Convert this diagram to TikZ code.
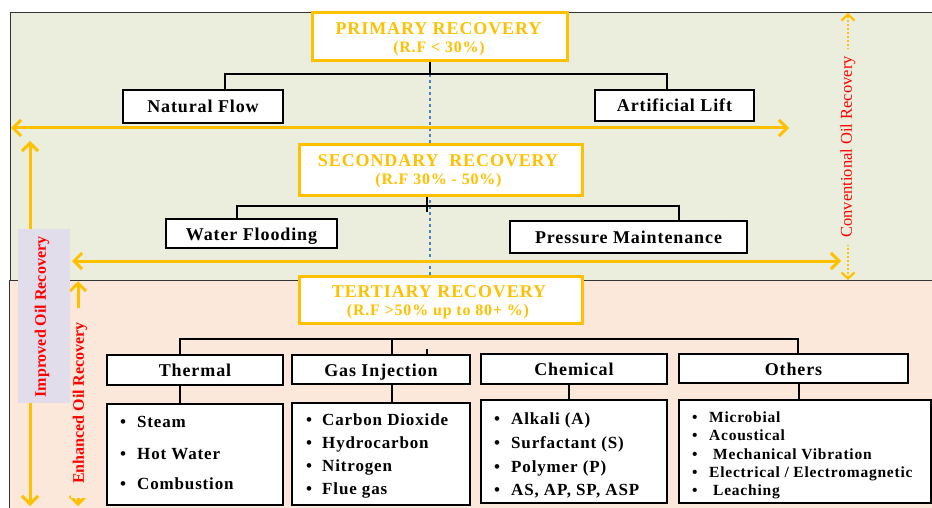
\documentclass[tikz,border=0pt]{standalone}
\usepackage{fontspec}
\setmainfont{Liberation Serif}
\newfontfamily\spaced[LetterSpace=5]{Liberation Serif}
\usetikzlibrary{arrows.meta}
\definecolor{gold}{HTML}{FFC000}
\definecolor{greenbg}{HTML}{EBEEDD}
\definecolor{peachbg}{HTML}{FCE8DA}
\definecolor{lav}{HTML}{E1DDEB}
\definecolor{dashblue}{HTML}{4F81BD}
\definecolor{redlab}{HTML}{FF0000}
\newcommand\myitem[2]{\makebox[#1][l]{•}#2}
\begin{document}
\begin{tikzpicture}[x=1pt,y=-1pt,
  barbtip/.tip={Straight Barb[length=8pt,width=16pt]},
  smalltip/.tip={Straight Barb[length=6pt,width=13pt]},
  titlebox/.style={draw=gold,line width=3pt,fill=white,inner sep=0pt},
  titletext/.style={anchor=base,inner sep=0pt,text=gold,font=\spaced\bfseries\fontsize{18}{18}\selectfont},
  subtext/.style={anchor=base,inner sep=0pt,text=gold,font=\spaced\bfseries\fontsize{16}{18}\selectfont},
  hbox/.style={draw=black,line width=1.8pt,fill=white,inner sep=0pt,text height=16pt,text depth=3pt,
    font=\spaced\bfseries\fontsize{18}{20}\selectfont},
  lbox/.style={draw=black,line width=1.8pt,fill=white,inner sep=0pt},
  itm/.style={anchor=base west,inner sep=0pt,font=\spaced\bfseries\fontsize{17}{19}\selectfont},
  itms/.style={anchor=base west,inner sep=0pt,font=\spaced\bfseries\fontsize{15.5}{17}\selectfont},
  conn/.style={draw=black,line width=1.8pt},
  oarrow/.style={draw=gold,line width=3pt,barbtip-barbtip},
  dotarrow/.style={draw=gold,line width=2.2pt,dash pattern=on 2pt off 2pt,smalltip-smalltip},
  redlabel/.style={text=redlab,rotate=90,inner sep=0pt}
]
\useasboundingbox (0,0) rectangle (932,508);
% backgrounds
\fill[greenbg] (10,12) rectangle (932,280);
\fill[peachbg] (9,280) rectangle (932,508);
\draw[line width=0.8pt,black!80] (932,12) -- (10,12) -- (10,280);
\draw[line width=0.8pt,black!80] (932,280) -- (9,280) -- (9,508);

% dashed spine
\coordinate (dtop) at (430,62);
\coordinate (dbot) at (430,275);
\draw[dashblue,dashed,line width=1.3pt] (dtop) -- (dbot);

% orange horizontal arrows
\coordinate (h1L) at (11,128);
\coordinate (h1R) at (789,128);
\draw[oarrow] (h1L) -- (h1R);
\coordinate (h2L) at (72,261);
\coordinate (h2R) at (841,261);
\draw[oarrow] (h2L) -- (h2R);

% vertical arrows
\coordinate (iTop) at (30,141);
\coordinate (iBot) at (30,506);
\draw[oarrow] (iTop) -- (iBot);
\coordinate (eTop) at (78,281);
\coordinate (eBot) at (78,506);
\draw[oarrow] (eTop) -- (eBot);
\coordinate (cTop) at (848,13);
\coordinate (cBot) at (848,280);
\draw[dotarrow] (cTop) -- (cBot);

% side labels
\node[fill=lav,rotate=90,minimum width=174,minimum height=52,inner sep=0pt] (impbg) at (44,316) {};
\node[redlabel,font=\bfseries\fontsize{16}{18}\selectfont] (imp) at (42,317) {Improved Oil Recovery};
\node[redlabel,fill=peachbg,inner xsep=14pt,inner ysep=2pt,font=\bfseries\fontsize{16}{18}\selectfont] (enh) at (80,403) {Enhanced Oil Recovery};
\node[redlabel,fill=greenbg,inner xsep=7pt,inner ysep=2pt,font=\fontsize{16.5}{18}\selectfont] (conv) at (848,147) {Conventional Oil Recovery};

% title boxes
\node[titlebox,minimum width=255,minimum height=48] (prim) at (440,36.5) {};
\node[titletext] (prim1) at (438.5,35) {PRIMARY RECOVERY};
\node[subtext] (prim2) at (439,53) {(R.F < 30\%)};
\node[titlebox,minimum width=283,minimum height=51] (sec) at (441,170) {};
\node[titletext] (sec1) at (438,167) {SECONDARY\ \ RECOVERY};
\node[subtext] (sec2) at (438.5,185) {(R.F 30\% - 50\%)};
\node[titlebox,minimum width=283,minimum height=47] (ter) at (441,300) {};
\node[titletext] (ter1) at (439,297) {TERTIARY RECOVERY};
\node[subtext] (ter2) at (438,315) {(R.F >50\% up to 80+ \%)};

% primary children
\node[hbox,minimum width=160,minimum height=33] (nf) at (203,106.5) {Natural Flow};
\node[hbox,minimum width=159,minimum height=31] (al) at (674.5,105.5) {Artificial Lift};
% secondary children
\node[hbox,minimum width=171,minimum height=29] (wf) at (251.5,233.5) {Water Flooding};
\node[hbox,minimum width=237,minimum height=32] (pm) at (628.5,237) {Pressure Maintenance};
% tertiary children
\node[hbox,minimum width=176,minimum height=30] (th) at (195,370) {Thermal};
\node[hbox,minimum width=178,minimum height=29] (gi) at (381,369.5) {Gas Injection};
\node[hbox,minimum width=186,minimum height=30] (ch) at (574,369) {Chemical};
\node[hbox,minimum width=229,minimum height=29] (ot) at (793.5,368.5) {Others};
% lists
\node[lbox,minimum width=176,minimum height=101] (thl) at (195,454.5) {};
\node[lbox,minimum width=178,minimum height=102] (gil) at (381,454) {};
\node[lbox,minimum width=186,minimum height=103] (chl) at (574,451.5) {};
\node[lbox,minimum width=252,minimum height=103] (otl) at (805,451.5) {};

\node[itm] (t1) at (120,427) {\myitem{17pt}{Steam}};
\node[itm] (t2) at (120,459) {\myitem{17pt}{Hot Water}};
\node[itm] (t3) at (120,489) {\myitem{17pt}{Combustion}};

\node[itm] (g1) at (306,425) {\myitem{16pt}{Carbon Dioxide}};
\node[itm] (g2) at (306,448) {\myitem{16pt}{Hydrocarbon}};
\node[itm] (g3) at (306,471) {\myitem{16pt}{Nitrogen}};
\node[itm] (g4) at (306,494) {\myitem{16pt}{Flue gas}};

\node[itm] (c1) at (494,424) {\myitem{17pt}{Alkali (A)}};
\node[itm] (c2) at (494,448) {\myitem{17pt}{Surfactant (S)}};
\node[itm] (c3) at (494,472) {\myitem{17pt}{Polymer (P)}};
\node[itm] (c4) at (494,495) {\myitem{17pt}{AS, AP, SP, ASP}};

\node[itms] (o1) at (692,422) {\myitem{17pt}{Microbial}};
\node[itms] (o2) at (692,440) {\myitem{17pt}{Acoustical}};
\node[itms] (o3) at (692,459) {\myitem{21pt}{Mechanical Vibration}};
\node[itms] (o4) at (692,477) {\myitem{17pt}{Electrical / Electromagnetic}};
\node[itms] (o5) at (692,495) {\myitem{21pt}{Leaching}};

% tree connectors: primary
\coordinate (pj) at (430,74);
\coordinate (pL) at (225,74);
\coordinate (pR) at (667,74);
\draw[conn] (prim.south -| pj) -- (pj);
\draw[conn] (nf.north -| pL) -- (pL) -- (pR) -- (al.north -| pR);
% secondary
\coordinate (sj) at (427,212);
\coordinate (sL) at (237,206);
\coordinate (sR) at (679,206);
\draw[conn] (sec.south -| sj) -- (sj);
\draw[conn] (wf.north -| sL) -- (sL) -- (sR) -- (pm.north -| sR);
% tertiary
\coordinate (tL) at (180,339);
\coordinate (tR) at (798,339);
\coordinate (tg) at (392,339);
\coordinate (tk) at (427,349);
\draw[conn] (th.north -| tL) -- (tL) -- (tR) -- (ot.north -| tR);
\draw[conn] (tg) -- (gi.north -| tg);
\draw[conn] (tk) -- (gi.north -| tk);
% level connectors
\coordinate (cx) at (569,385);
\coordinate (ox) at (799,384);
\draw[conn] (th.south -| tL) -- (thl.north -| tL);
\draw[conn] (gi.south -| tg) -- (gil.north -| tg);
\draw[conn] (ch.south -| cx) -- (chl.north -| cx);
\draw[conn] (ot.south -| ox) -- (otl.north -| ox);
\end{tikzpicture}
\end{document}
